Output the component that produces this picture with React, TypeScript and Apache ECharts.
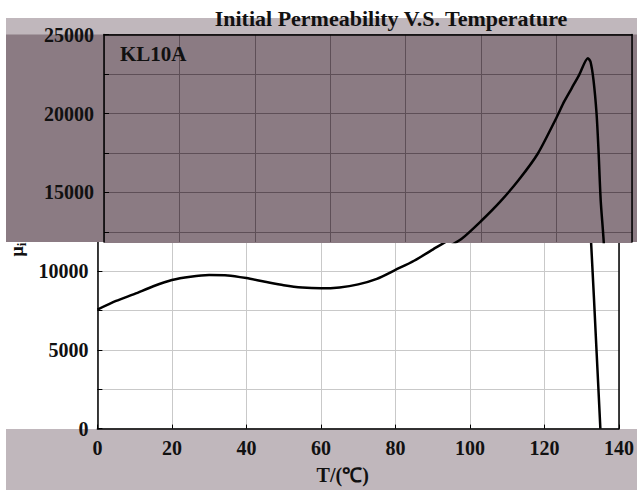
import React, { useEffect, useRef } from 'react';
import * as echarts from 'echarts';

// Temperature (°C) and initial permeability readings
const temperature = [0, 5, 10, 15, 20, 25, 30, 35, 40, 45, 50, 55, 60, 65, 70, 75, 80, 85, 90, 95, 100, 105, 110, 115, 120, 122, 124, 126, 128.3, 129, 129.8, 130.6, 131.1, 131.7, 132.5, 134, 135];
const permeability = [7550, 8100, 8550, 9030, 9430, 9640, 9740, 9720, 9550, 9320, 9100, 8950, 8900, 8960, 9150, 9500, 10070, 10650, 11360, 12100, 13190, 14400, 15800, 17450, 19750, 20750, 21600, 22450, 23500, 23280, 22100, 20000, 17780, 14500, 11860, 4800, 0];

const titleText = 'Initial Permeability V.S. Temperature';
const materialName = 'KL10A';
const xName = 'T/(℃)';
const yName = 'μ{sub|i}';
const xMin = 0;
const xMax = 140;
const xStep = 20;
const yMax = 25000;
const yStep = 2500;
const yLabelStep = 5000;
const topPanelMin = 11860;

const FONT = "'Liberation Serif', 'Times New Roman', serif";
const PURPLE = '#8b7b83';
const BAND = '#c0b7bc';
const DARK_GRID = '#5e4f57';
const LIGHT_GRID = '#c9c9c9';

export default function App() {
  const ref = useRef<HTMLDivElement>(null);
  useEffect(() => {
    if (!ref.current) return;
    const chart = echarts.init(ref.current, null, { renderer: 'svg' });
    const data = temperature.map((t, i) => [t, permeability[i]]);
    const topLabelFmt = (v: number) => (Math.abs(v % yLabelStep) < 1e-6 ? String(v) : '');
    const bottomLabelFmt = (v: number) => (Math.abs(v % yLabelStep) < 1e-6 && v < topPanelMin ? String(v) : '');
    const labelStyle = { fontFamily: FONT, fontWeight: 'bold' as const, fontSize: 20, color: '#111' };
    const topSplitColors = [PURPLE, DARK_GRID, DARK_GRID, DARK_GRID, DARK_GRID, DARK_GRID, DARK_GRID, DARK_GRID, DARK_GRID];
    chart.setOption({
      animation: false,
      backgroundColor: '#ffffff',
      title: [
        {
          text: titleText,
          left: 386,
          top: 2,
          textAlign: 'center',
          z: 50,
          textStyle: { fontFamily: FONT, fontWeight: 'bold', fontSize: 22, color: '#111' },
        },
        {
          text: materialName,
          left: 115,
          top: 38,
          z: 30,
          textStyle: { fontFamily: FONT, fontWeight: 'bold', fontSize: 21, color: '#111' },
        },
      ],
      grid: [
        { left: 104, top: 34.6, width: 528, height: 207.4 },
        { left: 92, top: 34.6, width: 529, height: 394 },
      ],
      xAxis: [
        {
          gridIndex: 0, type: 'value', min: xMin, max: xMax, interval: xStep, position: 'top', z: 20,
          axisLine: { show: true, onZero: false, lineStyle: { color: '#000', width: 1.5 } },
          axisTick: { show: false }, axisLabel: { show: false },
          splitLine: { show: true, lineStyle: { color: DARK_GRID, width: 1 } },
        },
        {
          gridIndex: 1, type: 'value', min: xMin, max: xMax, interval: xStep, position: 'bottom', z: 50,
          name: xName, nameLocation: 'middle', nameGap: 36,
          nameTextStyle: { ...labelStyle, padding: [0, 31, 0, 0] },
          axisLine: { show: true, onZero: false, lineStyle: { color: '#000', width: 1.5 } },
          axisTick: { show: true, inside: true, length: 4, lineStyle: { color: '#000' } },
          axisLabel: { ...labelStyle, margin: 9 },
          splitLine: { show: false },
        },
        {
          gridIndex: 1, type: 'value', min: xMin, max: xMax, interval: xStep, position: 'top', z: 1,
          axisLine: { show: false }, axisTick: { show: false }, axisLabel: { show: false },
          splitLine: { show: true, lineStyle: { color: LIGHT_GRID, width: 1 } },
        },
      ],
      yAxis: [
        {
          gridIndex: 0, type: 'value', min: topPanelMin, max: yMax, minInterval: yStep, maxInterval: yStep, splitNumber: 5, z: 20,
          axisLine: { show: true, onZero: false, lineStyle: { color: '#000', width: 1.5 } },
          axisTick: { show: true, inside: true, length: 5, lineStyle: { color: '#000' } },
          axisLabel: { ...labelStyle, margin: 10, formatter: topLabelFmt, showMinLabel: false },
          splitLine: { show: true, lineStyle: { color: topSplitColors, width: 1 } },
        },
        {
          gridIndex: 0, type: 'value', min: topPanelMin, max: yMax, position: 'right', z: 20,
          axisLine: { show: true, onZero: false, lineStyle: { color: '#000', width: 1.5 } },
          axisTick: { show: false }, axisLabel: { show: false }, splitLine: { show: false },
        },
        {
          gridIndex: 1, type: 'value', min: 0, max: yMax, interval: yStep, z: 5,
          name: yName, nameLocation: 'middle', nameGap: 62, nameRotate: 90,
          nameTextStyle: {
            fontFamily: FONT, fontWeight: 'bold', fontSize: 18, color: '#111', padding: [0, 36, 0, 0],
            rich: { sub: { fontFamily: FONT, fontWeight: 'bold', fontSize: 13, color: '#111', padding: [8, 0, 0, 0] } },
          },
          axisLine: { show: true, onZero: false, lineStyle: { color: '#000', width: 1.5 } },
          axisTick: { show: true, inside: true, length: 5, lineStyle: { color: '#000' } },
          axisLabel: { ...labelStyle, margin: 9, formatter: bottomLabelFmt },
          splitLine: { show: true, lineStyle: { color: LIGHT_GRID, width: 1 } },
        },
        {
          gridIndex: 1, type: 'value', min: 0, max: yMax, position: 'right', z: 5,
          axisLine: { show: true, onZero: false, lineStyle: { color: '#000', width: 1.5 } },
          axisTick: { show: false }, axisLabel: { show: false }, splitLine: { show: false },
        },
      ],
      graphic: [
        { type: 'rect', z: 12, zlevel: 0, shape: { x: 6, y: 34, width: 631, height: 208 }, style: { fill: PURPLE, stroke: 'none', lineWidth: 0 } },
        { type: 'rect', z: 15, shape: { x: 6, y: 18, width: 631, height: 16.5 }, style: { fill: BAND, stroke: 'none', lineWidth: 0 } },
        { type: 'rect', z: 0, shape: { x: 6, y: 429, width: 631, height: 61 }, style: { fill: BAND, stroke: 'none', lineWidth: 0 } },
      ],
      series: [
        {
          type: 'line', xAxisIndex: 0, yAxisIndex: 0, data, z: 21, clip: true,
          showSymbol: false, symbol: 'none', smooth: 0.25,
          lineStyle: { color: '#000', width: 2.5 },
        },
        {
          type: 'line', xAxisIndex: 1, yAxisIndex: 2, data, z: 6, clip: true,
          showSymbol: false, symbol: 'none', smooth: 0.25,
          lineStyle: { color: '#000', width: 2.5 },
        },
      ],
    });
    return () => chart.dispose();
  }, []);
  return (
    <div
      ref={ref}
      style={{ position: 'fixed', left: 0, top: 0, width: 637, height: 490, background: '#fff' }}
    />
  );
}
